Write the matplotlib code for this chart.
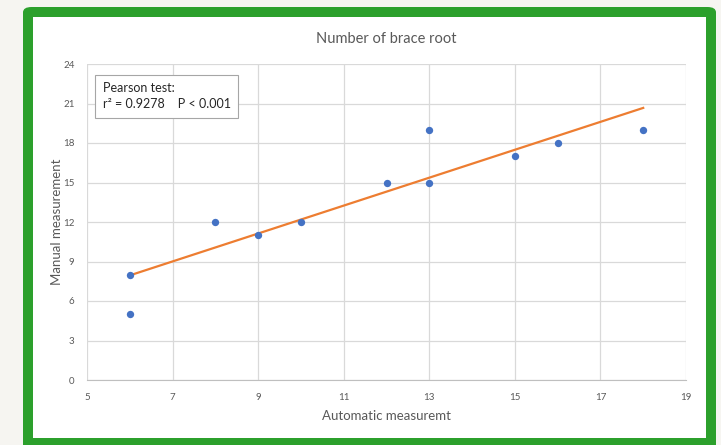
import numpy as np
import matplotlib
matplotlib.use('Agg')
import matplotlib.pyplot as plt
from matplotlib.patches import FancyBboxPatch, Rectangle

# data
automatic = [6, 6, 8, 9, 10, 12, 13, 13, 15, 16, 18]
manual = [8, 5, 12, 11, 12, 15, 19, 15, 17, 18, 19]
x_ticks = [5, 7, 9, 11, 13, 15, 17, 19]
y_ticks = [0, 3, 6, 9, 12, 15, 18, 21, 24]

plt.rcParams['font.family'] = ['Lato', 'DejaVu Sans']

W, H = 721, 445
fig = plt.figure(figsize=(W / 100, H / 100), dpi=100, facecolor='#f6f5f1')

# green frame (pixel coords converted to figure fraction)
def fx(px):
    return px / W

def fy(py):
    return 1 - py / H

frame = FancyBboxPatch((fx(23), fy(460)), fx(716) - fx(23), fy(7) - fy(460),
                       boxstyle='round,pad=0,rounding_size=0.012',
                       transform=fig.transFigure, facecolor='#2ca02c',
                       edgecolor='none', zorder=-2)
fig.patches.append(frame)
inner = Rectangle((fx(33), fy(438)), fx(705.5) - fx(33), fy(17) - fy(438),
                  transform=fig.transFigure, facecolor='white',
                  edgecolor='none', zorder=-1)
fig.patches.append(inner)

ax = fig.add_axes([fx(87), fy(380), fx(686) - fx(87), fy(64) - fy(380)])
ax.set_facecolor('none')

ax.scatter(automatic, manual, s=28, color='#4472c4', zorder=3, linewidths=0)

slope, intercept = np.polyfit(automatic, manual, 1)
xs = np.array([min(automatic), max(automatic)])
ax.plot(xs, slope * xs + intercept, color='#ed7d31', lw=1.6, zorder=2)

ax.set_xlim(5, 19)
ax.set_ylim(0, 24)
ax.set_xticks(x_ticks)
ax.set_yticks(y_ticks)
ax.grid(True, color='#d9d9d9', lw=0.9)
ax.set_axisbelow(True)
for side in ['top', 'right', 'left']:
    ax.spines[side].set_visible(False)
ax.spines['bottom'].set_color('#bfbfbf')
ax.tick_params(length=0, labelsize=7, colors='#595959')
ax.tick_params(axis='x', pad=9)
ax.tick_params(axis='y', pad=9)

ax.set_title('Number of brace root', fontsize=10.5, color='#595959', pad=15)
ax.set_xlabel('Automatic measuremt', fontsize=9.5, color='#595959', labelpad=6)
ax.set_ylabel('Manual measurement', fontsize=9.5, color='#595959')
ax.yaxis.set_label_coords(-0.040, 0.5)

ax.text(0.026, 0.942, 'Pearson test:\nr² = 0.9278    P < 0.001',
        transform=ax.transAxes, fontsize=9, color='#262626', va='top',
        ha='left', linespacing=1.4,
        bbox=dict(boxstyle='square,pad=0.62', facecolor='white',
                  edgecolor='#a6a6a6', lw=0.8))

fig.savefig('out.png', dpi=100, facecolor=fig.get_facecolor())
